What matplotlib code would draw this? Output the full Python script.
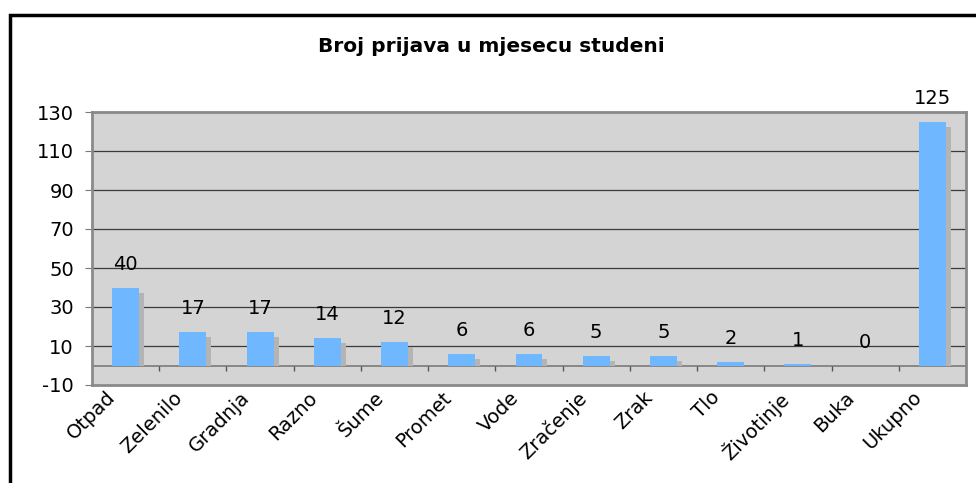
import matplotlib
matplotlib.use("Agg")
import matplotlib.pyplot as plt
from matplotlib.patches import Rectangle
import matplotlib.transforms as mtransforms
import numpy as np

categories = ["Otpad", "Zelenilo", "Gradnja", "Razno", "Šume", "Promet", "Vode",
              "Zračenje", "Zrak", "Tlo", "Životinje", "Buka", "Ukupno"]
values = [40, 17, 17, 14, 12, 6, 6, 5, 5, 2, 1, 0, 125]
yticks = [-10, 10, 30, 50, 70, 90, 110, 130]
title = "Broj prijava u mjesecu studeni"

plt.rcParams['font.family'] = ['DejaVu Sans']

W, H = 976, 483
fig = plt.figure(figsize=(W / 100, H / 100), dpi=100)
fig.patch.set_facecolor("white")

# outer border (only top/left visible in reference)
fig.add_artist(Rectangle((9.5 / W, -0.05), 1.2, (H - 14.5) / H + 0.05,
                         transform=fig.transFigure, fill=False,
                         edgecolor="black", linewidth=2.5))

ax = fig.add_axes([92 / W, (H - 385) / H, (966 - 92) / W, (385 - 112) / H])
ax.set_facecolor("#d4d4d4")
ax.set_ylim(-10, 130)
ax.set_xlim(-0.5, len(categories) - 0.5)

x = np.arange(len(categories))
bw = 0.4
for y in range(10, 131, 20):
    ax.axhline(y, color="#3a3a3a", linewidth=0.9, zorder=1)
ax.axhline(0, color="#7a7a7a", linewidth=1.2, zorder=1)

# shadow
shadow_tr = ax.transData + mtransforms.ScaledTranslation(5 / 100, 0, fig.dpi_scale_trans)
shadow_h = [max(v - 2.6, 0) for v in values]
ax.bar(x, shadow_h, width=bw, color="#b4b4b4", zorder=2, transform=shadow_tr)
ax.bar(x, values, width=bw, color="#6fb7ff", zorder=3)

for xi, v in zip(x, values):
    ax.annotate(str(v), (xi, v), xytext=(0, 10), textcoords="offset points",
                ha="center", va="bottom", fontsize=14, annotation_clip=False)

# tick marks on zero line between categories
bounds = np.arange(0.5, len(categories) - 1, 1.0)
ax.vlines(bounds, -3, 0, color="#555555", linewidth=1, zorder=2)

for s in ax.spines.values():
    s.set_color("#8a8a8a")
    s.set_linewidth(2)

ax.set_yticks(yticks)
ax.set_yticklabels([str(t) for t in yticks], fontsize=14)
ax.tick_params(axis="y", length=5, color="#7a7a7a", direction="out", pad=8)

ax.set_xticks(x)
ax.set_xticklabels(categories, fontsize=14, rotation=45, ha="right",
                   rotation_mode="anchor")
ax.tick_params(axis="x", length=0, pad=2)
lab_off = mtransforms.ScaledTranslation(-20 / 100, 0, fig.dpi_scale_trans)
for lab in ax.get_xticklabels():
    lab.set_transform(lab.get_transform() + lab_off)

fig.text(491 / W, 1 - 46 / H, title, ha="center", va="center",
         fontsize=14.5, fontweight="bold")

fig.savefig("out.png", dpi=100)
